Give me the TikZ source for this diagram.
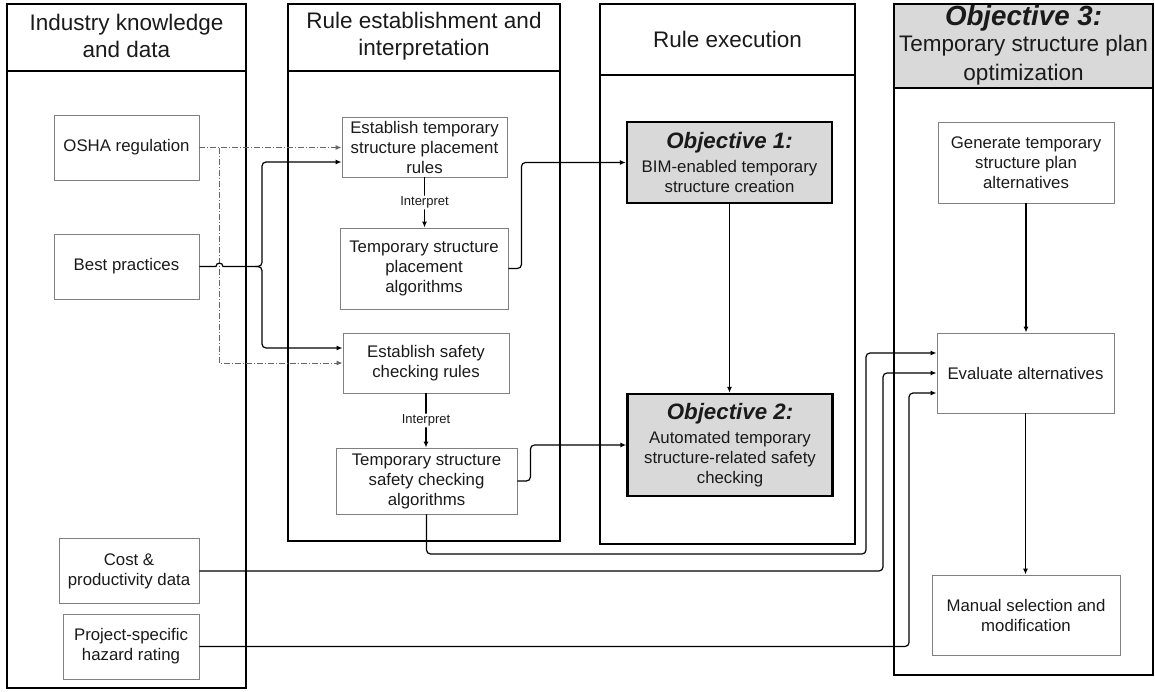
\documentclass[tikz,border=0pt]{standalone}
\usepackage{fontspec}
\setmainfont{Liberation Sans}
\usetikzlibrary{calc,positioning,arrows.meta}

\definecolor{boxgray}{HTML}{808080}
\definecolor{reggray}{HTML}{666666}
\definecolor{objfill}{HTML}{D9D9D9}
\definecolor{txtgray}{HTML}{1A1A1A}

\tikzset{
    colframe/.style={draw=black,line width=1.7pt},
    hdr/.style={align=center,inner sep=0pt,text=txtgray,font=\fontsize{22.5}{27}\selectfont},
    smallbox/.style={rectangle,draw=boxgray,line width=0.9pt,align=center,inner sep=0pt,
      text=txtgray,font=\fontsize{16.8}{20}\selectfont},
    boxwh/.style 2 args={minimum width=#1,minimum height=#2},
    objbox/.style={smallbox,draw=black,line width=2.4pt,fill=objfill},
    flow/.style={draw=black,line width=1.2pt,rounded corners=4pt,-{Latex[length=6pt,width=5pt]}},
    regflow/.style={draw=reggray,line width=1pt,dash pattern=on 6pt off 2pt on 1pt off 2pt,
      -{Latex[length=6pt,width=5pt]}},
    lbl/.style={fill=white,inner sep=1pt,text=txtgray,font=\fontsize{13}{14}\selectfont}
}

\begin{document}
\begin{tikzpicture}[x=1pt,y=-1pt]

  \useasboundingbox (0,0) rectangle (1155,691);

  \fill[objfill] (894,4) rectangle (1153,88);
  \foreach \xa/\xb/\yh/\yb in {7/246/71/688,288/560/71/541,600/855/75/544,894/1153/88/675}
           {
             \draw[colframe] (\xa,4) rectangle (\xb,\yb);
             \draw[colframe] (\xa,\yh) -- (\xb,\yh);
           }

  \node (hdr_data) [hdr] at(126.5,36) {Industry knowledge\\and data};
  \node (hdr_rule) [hdr] at(424,36) {Rule establishment and\\interpretation};
  \node (hdr_exec) [hdr] at(727.5,39.5) {Rule execution};
  \node (hdr_opt) [hdr,font=\fontsize{22.5}{29}\selectfont] at(1023.5,45)
        {{\fontsize{27.7}{28}\selectfont\bfseries\itshape Objective 3:}\\[-3pt]Temporary structure plan\\optimization};

  %% industry knowledge and data
  \node (osha) [smallbox,boxwh={145pt}{65pt}] at(126.5,147.5) {OSHA regulation};
  \node (bp) [smallbox,boxwh={145pt}{65pt}] at(126.5,266.5) {Best practices};
  \node (cost) [smallbox,boxwh={140pt}{65pt}] at(129,571) {Cost \&\\productivity data};
  \node (proj) [smallbox,boxwh={136pt}{65pt}] at(131,646.5) {Project-specific\\hazard rating};

  %% rule establishment and interpretation
  \node (plrules) [smallbox,boxwh={165pt}{60pt}] at(424.5,147) {Establish temporary\\structure placement\\rules};
  \node (plalgo) [smallbox,boxwh={168pt}{81pt}] at(424,268.5) {Temporary structure\\placement\\algorithms};
  \node (sfrules) [smallbox,boxwh={166pt}{60pt}] at(426,363) {Establish safety\\checking rules};
  \node (sfalgo) [smallbox,boxwh={181pt}{66pt}] at(426.5,481) {Temporary structure\\safety checking\\algorithms};

  %% rule execution
  \node (obj1) [objbox,boxwh={205pt}{81pt}] at(729.5,162.5)
        {{\fontsize{22.3}{25}\selectfont\bfseries\itshape Objective 1:}\\[4pt]BIM-enabled temporary\\structure creation};
  \node (obj2) [objbox,boxwh={205pt}{102pt}] at(730,445)
        {{\fontsize{22.3}{25}\selectfont\bfseries\itshape Objective 2:}\\[4pt]Automated temporary\\structure-related safety\\checking};

  %% plan optimization
  \node (gen) [smallbox,boxwh={176pt}{81pt}] at(1026,162.5) {Generate temporary\\structure plan\\alternatives};
  \node (eval) [smallbox,boxwh={177pt}{80pt}] at(1025.5,373) {Evaluate alternatives};
  \node (manual) [smallbox,boxwh={188pt}{80pt}] at(1026,615) {Manual selection and\\modification};

  %% regulation links
  \coordinate (regsplit) at($(osha.east)+(20,0)$);
  \draw[regflow] (osha.east) -- (osha.east -| plrules.west);
  \draw[regflow] (regsplit) |- (sfrules.west);

  %% best practice links, hopping over the regulation line
  \coordinate (bphop) at(regsplit |- bp.east);
  \coordinate (bpjoin) at(255,266.5);
  \coordinate (bpsplit) at(262,266.5);
  \draw[line width=1.2pt] (bp.east) -- ($(bphop)+(-3.5,0)$)
       .. controls ($(bphop)+(-3.5,-4.5)$) and ($(bphop)+(3.5,-4.5)$) .. ($(bphop)+(3.5,0)$) -- (bpjoin);
  \draw[flow] (bpjoin) -- (bpsplit) |- ([yshift=-15pt]plrules.west);
  \draw[flow] (bpjoin) -- (bpsplit) |- ([yshift=15pt]sfrules.west);

  \draw[flow] (plrules.south) -- node[lbl] {Interpret} (plrules.south |- plalgo.north);
  \draw[flow] (sfrules.south) -- node[lbl] {Interpret} (sfrules.south |- sfalgo.north);

  \draw[flow] (plalgo.east) -- ++(13,0) |- (obj1.west);
  \draw[flow] (sfalgo.east) -- ++(13,0) |- (obj2.west);
  \draw[flow] (obj1.south) -- (obj1.south |- obj2.north);

  \draw[flow] (gen.south) -- (gen.south |- eval.north);
  \draw[flow] (eval.south) -- (eval.south |- manual.north);

  %% inputs of the evaluation
  \coordinate (sfturn) at(866,554);
  \coordinate (costrise) at(883,0);
  \coordinate (projrise) at(909,0);
  \draw[flow] (sfalgo.south) |- (sfturn) |- ([yshift=20pt]eval.west);
  \draw[flow] (cost.east) -- (cost.east -| costrise) |- (eval.west);
  \draw[flow] (proj.east) -- (proj.east -| projrise) |- ([yshift=-20pt]eval.west);

\end{tikzpicture}
\end{document}
